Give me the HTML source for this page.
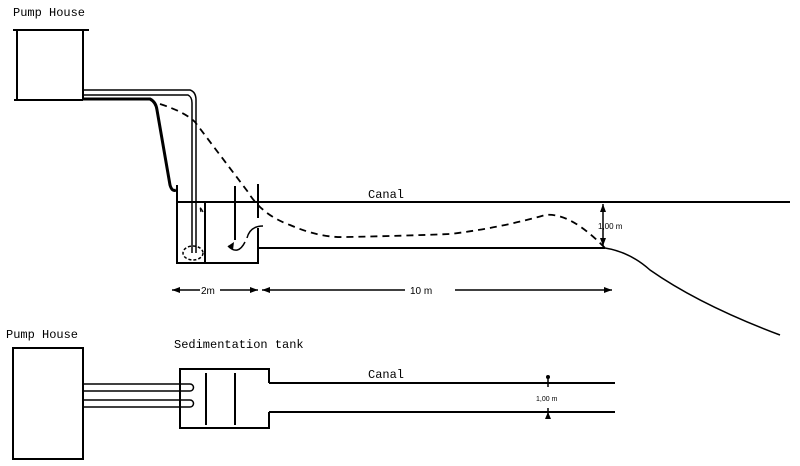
<!DOCTYPE html>
<html><head><style>
body{margin:0;background:#fff;width:800px;height:466px;overflow:hidden}
svg{display:block}
text{font-family:"Liberation Mono",monospace;font-size:12px;fill:#000}
</style></head><body>
<svg width="800" height="466" viewBox="0 0 800 466">
<g stroke="#000" fill="none" stroke-width="2">
<line x1="13" y1="30" x2="89" y2="30"/>
<line x1="17" y1="30" x2="17" y2="100"/>
<line x1="83" y1="30" x2="83" y2="100"/>
<line x1="14" y1="100" x2="83" y2="100"/>
<path d="M83 90 H190 Q196 92 196 100 V253" stroke-width="1.5"/>
<path d="M83 95 H188 Q192 97 192 103 V253" stroke-width="1.5"/>
<path d="M83 99 H150 Q156 102 157 110 L170 185 Q172 192 176 190" stroke-width="3"/>
<path d="M160 104 Q185 112 195 122 L248 192 Q262 215 290 225 Q320 238 345 237 Q400 236 450 234 Q500 228 545 215 Q570 212 605 248" stroke-dasharray="7,5" stroke-width="1.8"/>
<ellipse cx="193" cy="253" rx="10" ry="7" stroke-dasharray="3,2" stroke-width="1.5"/>
<line x1="176" y1="202" x2="790" y2="202"/>
<path d="M177 185 V263 H258 V228"/>
<line x1="205" y1="203" x2="205" y2="263"/>
<line x1="235" y1="186" x2="235" y2="240"/>
<line x1="258" y1="184" x2="258" y2="218"/>
<line x1="258" y1="248" x2="605" y2="248"/>
<path d="M605 248 Q630 252 650 270 Q700 305 780 335" stroke-width="1.5"/>
<path d="M263 226 Q250 226 247 238" stroke-width="1.5"/>
<path d="M245 242 Q238 256 228 246" stroke-width="1.5"/>
<path d="M203 212 Q199 204 201 212" stroke-width="1.2"/>
<line x1="172" y1="290" x2="200" y2="290" stroke-width="1.5"/>
<line x1="220" y1="290" x2="258" y2="290" stroke-width="1.5"/>
<line x1="262" y1="290" x2="405" y2="290" stroke-width="1.5"/>
<line x1="455" y1="290" x2="612" y2="290" stroke-width="1.5"/>
<line x1="603" y1="204" x2="603" y2="246" stroke-width="1.5"/>
<rect x="13" y="348" width="70" height="111"/>
<path d="M83 384 H190 A3.5 3.5 0 0 1 190 391 H83" stroke-width="1.5"/>
<path d="M83 400 H190 A3.5 3.5 0 0 1 190 407 H83" stroke-width="1.5"/>
<path d="M269 383 V369 H180 V428 H269 V412"/>
<line x1="206" y1="373" x2="206" y2="425"/>
<line x1="235" y1="373" x2="235" y2="425"/>
<line x1="269" y1="383" x2="615" y2="383"/>
<line x1="269" y1="412" x2="615" y2="412"/>
<line x1="548" y1="377" x2="548" y2="387" stroke-width="1.5"/>
<line x1="548" y1="408" x2="548" y2="418" stroke-width="1.5"/>
</g>
<g fill="#000">
<polygon points="172,290 180,287 180,293"/>
<polygon points="258,290 250,287 250,293"/>
<polygon points="262,290 270,287 270,293"/>
<polygon points="612,290 604,287 604,293"/>
<polygon points="603,204 600,212 606,212"/>
<polygon points="603,246 600,238 606,238"/>
<polygon points="228,246 234,242 233,250"/>
<circle cx="548" cy="377" r="2"/>
<polygon points="548,412 545,419 551,419"/>
</g>
<text x="13" y="16">Pump House</text>
<text x="368" y="198">Canal</text>
<text x="201" y="294" style="font-size:10px;font-family:'Liberation Sans',sans-serif">2m</text>
<text x="410" y="294" style="font-size:10px;font-family:'Liberation Sans',sans-serif">10 m</text>
<text x="598" y="229" style="font-size:8px;font-family:'Liberation Sans',sans-serif">1,00 m</text>
<text x="6" y="338">Pump House</text>
<text x="174" y="348">Sedimentation tank</text>
<text x="368" y="378">Canal</text>
<text x="536" y="401" style="font-size:7px;font-family:'Liberation Sans',sans-serif">1,00 m</text>
</svg>
</body></html>
